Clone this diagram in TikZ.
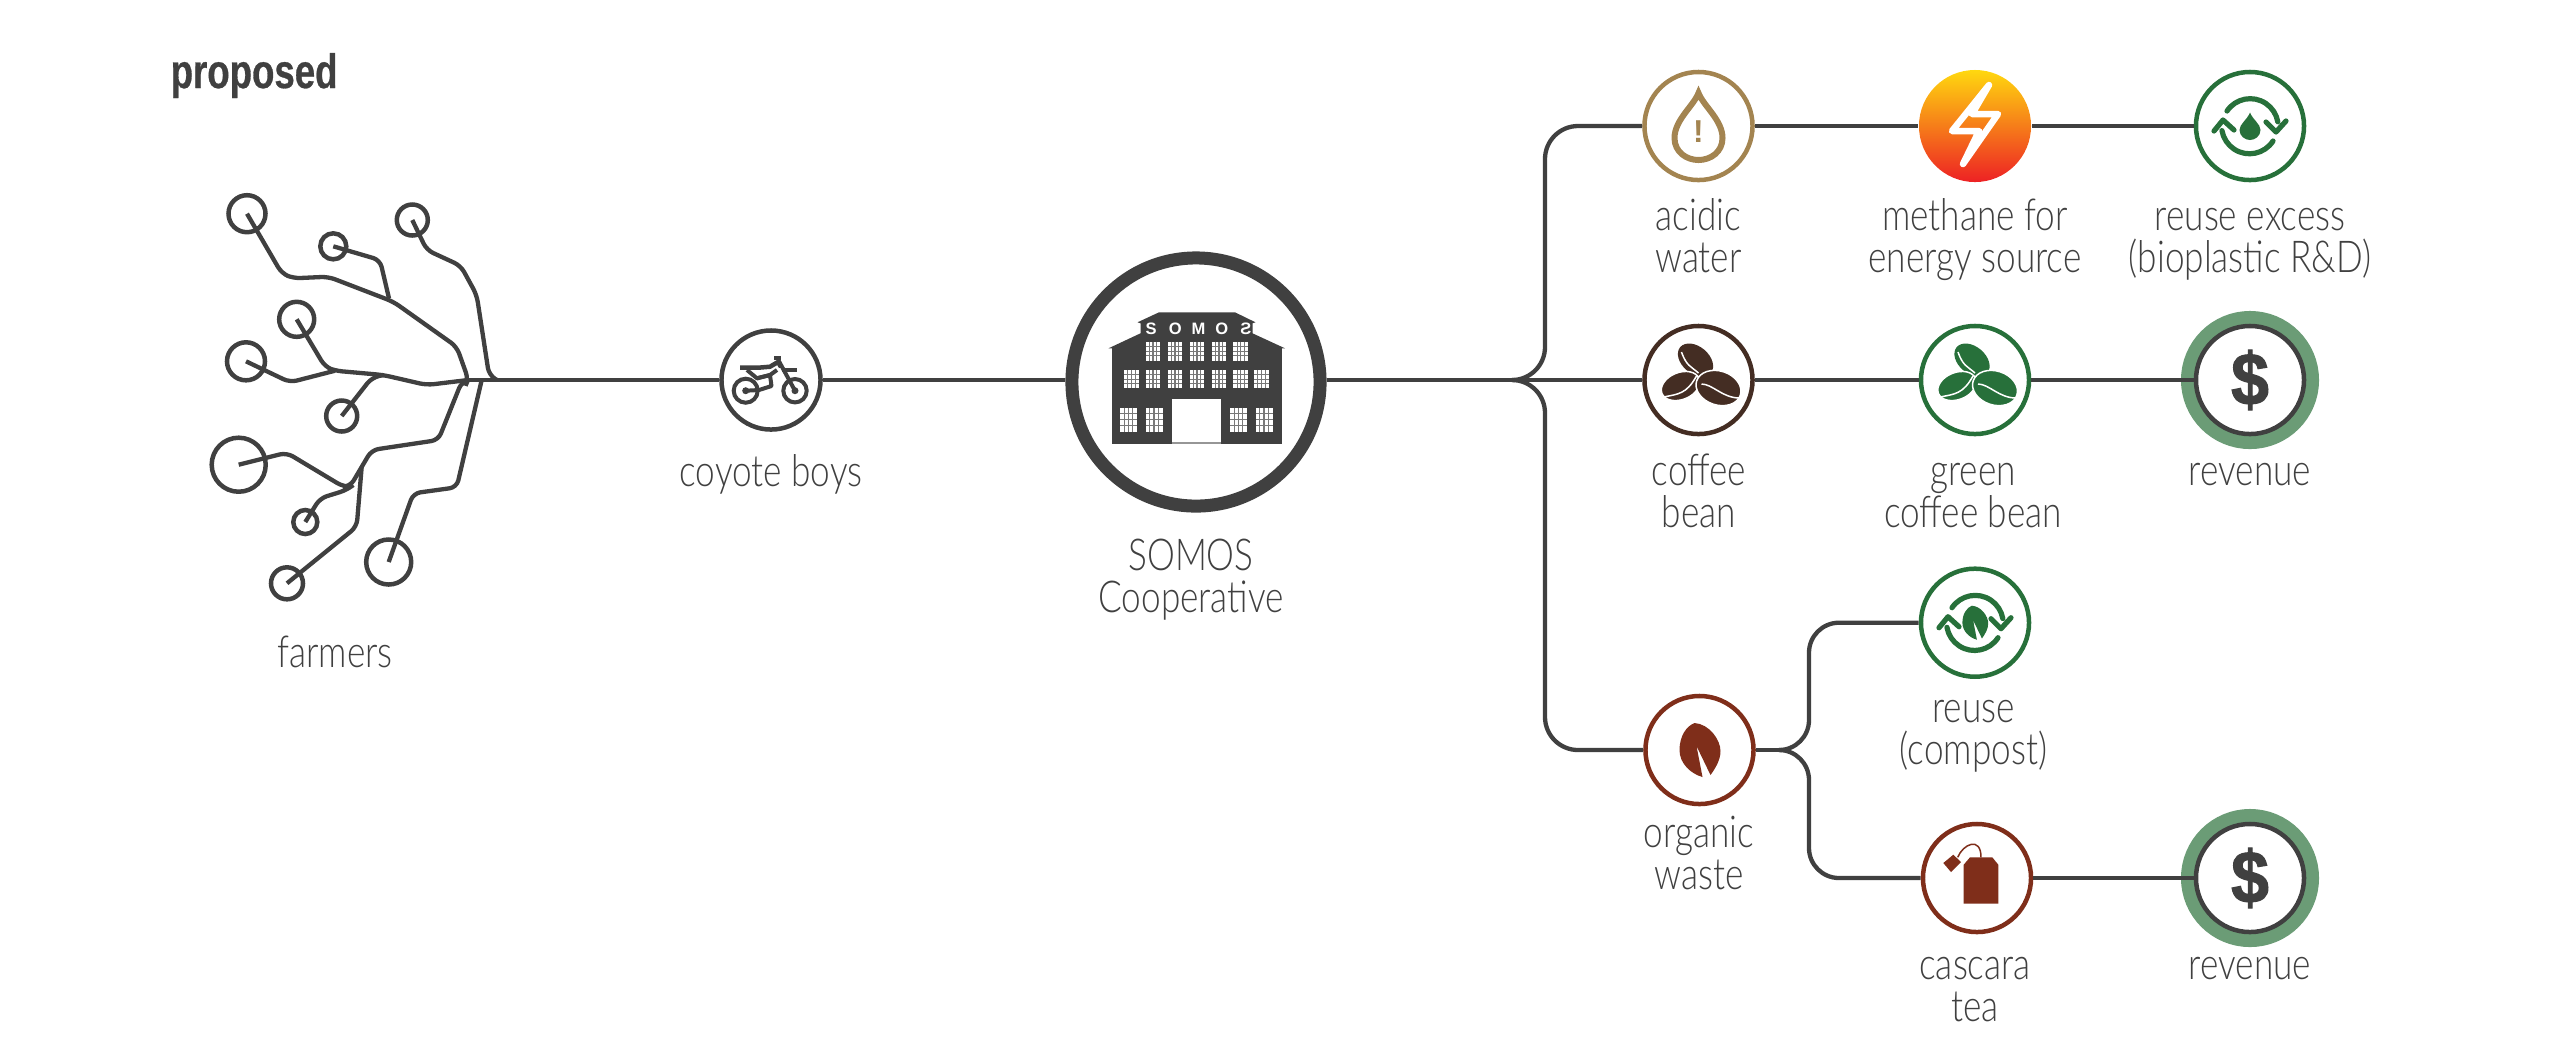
\documentclass[tikz,border=0pt]{standalone}
\usepackage{fontspec}
\setmainfont{Lato}[UprightFont=* Light, FakeStretch=0.8]
\newfontfamily\headfont{Liberation Sans Bold}[FakeStretch=0.76, FakeBold=0.6]
\newfontfamily\iconfont{Liberation Sans Bold}
\newfontfamily\cashfont{Liberation Sans Bold}[FakeStretch=0.92, FakeBold=1.5]
\usepackage{tikz}
\definecolor{ink}{HTML}{404040}
\definecolor{tan}{HTML}{A38450}
\definecolor{roast}{HTML}{442D23}
\definecolor{leaf}{HTML}{27703A}
\definecolor{rust}{HTML}{7F2E1A}
\definecolor{ringgreen}{HTML}{6B9C76}
\definecolor{fueltop}{HTML}{FFD80F}
\definecolor{fuelmid}{HTML}{F5821F}
\definecolor{fuelend}{HTML}{ED2124}
\tikzstyle{farmer}=[circle, draw=ink, line width=0.045cm, inner sep=0pt]
\tikzstyle{pointink}=[circle, draw=ink, fill=white, line width=0.045cm, minimum size=1.08cm, inner sep=0pt]
\tikzstyle{pointtan}=[pointink, draw=tan]
\tikzstyle{pointroast}=[pointink, draw=roast]
\tikzstyle{pointleaf}=[pointink, draw=leaf]
\tikzstyle{pointrust}=[pointink, draw=rust]
\tikzstyle{pointfuel}=[circle, minimum size=1.12cm, inner sep=0pt, top color=fueltop, middle color=fuelmid, bottom color=fuelend]
\tikzstyle{pointrevenue}=[pointink, preaction={draw=ringgreen, line width=0.3cm}]
\tikzstyle{wire}=[draw=ink, line width=0.043cm]
\tikzstyle{branch}=[wire, rounded corners=0.07cm]
\tikzstyle{caption}=[font=\fontsize{12.5}{11.8}\selectfont, text=ink, align=center, anchor=base, inner sep=0pt]
\newcommand{\windowpane}[4]{
	\begin{scope}[shift={(#1,#2)}, xscale=#3, yscale=#4]
		\fill[white] (-0.5,0) rectangle (0.5,1);
		\foreach \g in {0.25,0.5,0.75} {
			\draw[ink!70, line width=0.3pt] (-0.5,\g) -- (0.5,\g);
			\draw[ink!70, line width=0.3pt] (\g-0.5,0) -- (\g-0.5,1);
		}
	\end{scope}
}
\newcommand{\ringarrows}[1]{
	\draw[#1, line width=0.052cm, line cap=round, line join=round] (-23,-15) arc[start angle=-146, end angle=-10, radius=28] (16,-4) -- (26,6) -- (36,-5);
	\draw[#1, line width=0.052cm, line cap=round, line join=round] (23,15) arc[start angle=33, end angle=170, radius=28] (-36,5) -- (-27,-6) -- (-16,4);
}
\newcommand{\leafshape}[1]{
	\fill[#1] (-5,-27) .. controls (10,-26) and (21,-10) .. (21,1) .. controls (21,10) and (16,18) .. (11,25) -- (-3,-4) -- (3,27) .. controls (-8,24) and (-20,14) .. (-20,0) .. controls (-20,-14) and (-13,-24) .. (-5,-27) -- cycle;
}
\newcommand{\beanpile}[1]{
	\fill[#1] (-3,-20) ellipse [x radius=20, y radius=13.5, rotate=-40];
	\draw[white, line width=0.015cm] (-17,-28) .. controls (-12,-14) and (-8,-14) .. (0,-7);
	\filldraw[fill=#1, draw=white, line width=0.015cm] (-18,6) ellipse [x radius=20, y radius=13.5, rotate=22];
	\draw[white, line width=0.015cm] (-35,17) .. controls (-20,14) and (-12,14) .. (-2,-4);
	\filldraw[fill=#1, draw=white, line width=0.015cm] (20,8) ellipse [x radius=23, y radius=17, rotate=-18];
	\draw[white, line width=0.015cm] (3,4) .. controls (14,4) and (24,18) .. (41,18);
}
\begin{document}
\begin{tikzpicture}[x=0.01cm, y=-0.01cm]
	\useasboundingbox (0,0) rectangle (2550,1050);
	\begin{scope}
		\node (f1) at (247,213.7)[farmer, minimum size=0.37cm] {};
		\node (f2) at (333.3,246.3)[farmer, minimum size=0.26cm] {};
		\node (f3) at (412.3,220)[farmer, minimum size=0.31cm] {};
		\node (f4) at (296.7,319.3)[farmer, minimum size=0.35cm] {};
		\node (f5) at (246,361.3)[farmer, minimum size=0.38cm] {};
		\node (f6) at (341.7,416)[farmer, minimum size=0.31cm] {};
		\node (f7) at (238.7,464.7)[farmer, minimum size=0.54cm] {};
		\node (f8) at (305.3,522)[farmer, minimum size=0.24cm] {};
		\node (f9) at (287,583.3)[farmer, minimum size=0.32cm] {};
		\node (f10) at (388.7,562)[farmer, minimum size=0.45cm] {};
		\coordinate (hub) at (468,380);
		\node (coyote) at (771,380)[pointink, minimum size=0.99cm] {};
		\node (somos) at (1196,382)[circle, draw=ink, fill=white, line width=0.13cm, minimum size=2.48cm, inner sep=0pt] {};
		\node (acid) at (1698.5,126)[pointtan] {};
		\node (methane) at (1975,126)[pointfuel] {};
		\node (excess) at (2250,126)[pointleaf] {};
		\node (bean) at (1698.5,380)[pointroast] {};
		\node (greenbean) at (1975,380)[pointleaf] {};
		\node (revenue) at (2250,380)[pointrevenue] {};
		\node (waste) at (1699.5,750)[pointrust] {};
		\node (compost) at (1975,622.7)[pointleaf] {};
		\node (tea) at (1977,878)[pointrust] {};
		\node (sales) at (2250,878)[pointrevenue] {};
		\coordinate (fork) at (1512,380);
		\coordinate (split) at (1779,750);
	\end{scope}
	\begin{scope}
		\draw[branch] (f1.center) -- (281.7,273.3) -- (293.3,278.3) -- (328.3,276.7) -- (393.3,301.7) -- (456.7,346.7) -- (468.3,379.3) -- (hub);
		\draw[branch] (f2.center) -- (380,260) -- (389,298.3);
		\draw[branch] (f3.center) -- (426.7,250) -- (460.7,265.7) -- (476.7,295) -- (489,375) -- (497,380);
		\draw[branch] (f4.center) -- (325,366.7) -- (335,370.7) -- (383.3,375) -- (426.7,385) -- (hub);
		\draw[branch] (f5.center) -- (290,382.3) -- (335,370.7);
		\draw[branch] (f6.center) -- (371.7,377.7) -- (383.3,375);
		\draw[branch] (f7.center) -- (286.7,452.7) -- (343.3,486.7) -- (350,486.7) -- (371.7,450) -- (438.3,440) -- (461.7,381.7) -- (hub);
		\draw[branch] (f8.center) -- (320,498.3) -- (346.7,490) -- (353.3,485);
		\draw[branch] (f9.center) -- (356.7,526.7) -- (361.7,466.7);
		\draw[branch] (f10.center) -- (413.3,493.3) -- (456.7,487.3) -- (481.7,380);
		\path [wire] (hub) edge (coyote);
		\path [wire] (coyote) edge (coyote -| somos.west);
		\path [wire] (somos.east |- fork) edge (fork);
		\path [wire] (fork) edge (bean);
		\path [wire] (bean) edge (greenbean);
		\path [wire] (greenbean) edge (revenue);
		\path [wire] (acid) edge (methane);
		\path [wire] (methane) edge (excess);
		\path [wire] (tea) edge (sales);
		\path [wire] (waste) edge (split);
		\draw[wire, rounded corners=0.33cm] (fork) -- (1545,380) -- (1545,126) -- (acid);
		\draw[wire, rounded corners=0.33cm] (fork) -- (1545,380) -- (1545,750) -- (waste);
		\draw[wire, rounded corners=0.3cm] (split) -- (1809,750) -- (1809,622.7) -- (compost);
		\draw[wire, rounded corners=0.3cm] (split) -- (1809,750) -- (1809,878) -- (tea);
	\end{scope}
	\begin{scope}[shift={(771,380)}]
		\draw[ink, line width=0.04cm] (-25.3,10.7) circle (12);
		\fill[ink] (-25.3,10.7) circle (3.5);
		\draw[ink, line width=0.04cm] (24,10.7) circle (11.7);
		\fill[ink] (24,10.7) circle (3.5);
		\draw[ink, line width=0.045cm, line join=round] (-31,-12.3) -- (-13,-12.3) -- (-1,-13.3) -- (7,-18) -- (10,-13);
		\draw[ink, line width=0.04cm] (10.7,-10) -- (25.7,-10);
		\draw[ink, line width=0.04cm] (3.3,-21.7) -- (10,-21.7);
		\draw[ink, line width=0.04cm] (7.3,-20) -- (24,10.7);
		\draw[ink, line width=0.04cm, line join=round] (-24,-10) -- (-14,-1.7) -- (-1,-5) -- (6,-10);
		\draw[ink, line width=0.04cm, line join=round] (-14,-1.7) -- (-1,-5) -- (0.5,6) -- (-12,10) -- (-25.3,10.7);
	\end{scope}
	\begin{scope}
		\fill[ink] (1111.5,348) rectangle (1282,443.5);
		\fill[ink] (1108.5,348.3) -- (1140.5,333.3) -- (1140.5,323.3) -- (1137.5,322.3) -- (1159,312.3) -- (1235,312.3) -- (1255.5,322.3) -- (1252.5,323.3) -- (1252.5,333.3) -- (1285,348.3) -- cycle;
		\node (sign) at (1198.5,328.3)[text=white, font=\iconfont\fontsize{4.7}{5}\selectfont, inner sep=0pt] {S\hspace{0.12cm}O\hspace{0.1cm}M\hspace{0.1cm}O\hspace{0.12cm}\reflectbox{S}};
		\foreach \wx in {1153,1175,1197,1219,1240.7} {\windowpane{\wx}{341.7}{14.7}{19}}
		\foreach \wx in {1131.4,1153,1175,1197,1219,1240.7,1261.5} {\windowpane{\wx}{370}{14.5}{18.3}}
		\foreach \wx in {1128.4,1154,1238.5,1264} {\windowpane{\wx}{407.7}{17}{24}}
		\fill[white] (1172,399.3) rectangle (1221,442);
		\fill[ink!55] (1172,442) rectangle (1221,443.5);
	\end{scope}
	\begin{scope}[shift={(1698.5,126)}]
		\draw[tan, line width=0.06cm, line join=miter] (0,-33) .. controls (-5,-20) and (-24,-6) .. (-24,12) .. controls (-24,26) and (-12,34) .. (0,34) .. controls (12,34) and (24,26) .. (24,12) .. controls (24,-6) and (5,-20) .. (0,-33) -- cycle;
		\node (mark) at (0,5.5)[text=tan, font=\iconfont\fontsize{9}{10}\selectfont, inner sep=0pt] {!};
	\end{scope}
	\begin{scope}[shift={(1975,126)}]
		\draw[white, line width=0.065cm, line join=round] (14,-41) -- (-23,5) -- (4,5) -- (-12,38) -- (23,-12) -- (-3,-12) -- cycle;
	\end{scope}
	\begin{scope}[shift={(2250,126)}]
		\ringarrows{leaf}
		\fill[leaf] (0,-13.5) .. controls (-3,-6) and (-10.5,-2) .. (-10.5,4) .. controls (-10.5,10) and (-5,14) .. (0,14) .. controls (5,14) and (10.5,10) .. (10.5,4) .. controls (10.5,-2) and (3,-6) .. (0,-13.5) -- cycle;
	\end{scope}
	\begin{scope}[shift={(1698.5,380)}]
		\beanpile{roast}
	\end{scope}
	\begin{scope}[shift={(1975,380)}]
		\beanpile{leaf}
	\end{scope}
	\begin{scope}[shift={(1699.5,750)}]
		\leafshape{rust}
	\end{scope}
	\begin{scope}[shift={(1975,622.7)}]
		\ringarrows{leaf}
		\begin{scope}[scale=0.63]
			\leafshape{leaf}
		\end{scope}
	\end{scope}
	\begin{scope}[shift={(1977,878)}]
		\fill[rust] (-13.3,-13.3) -- (-7,-20.7) -- (15.3,-20.7) -- (21.3,-13.3) -- (21.3,25.7) -- (-13.3,25.7) -- cycle;
		\fill[rust] (-33.7,-15) -- (-23.7,-23.3) -- (-16,-16) -- (-26,-6) -- cycle;
		\draw[rust, line width=0.015cm] (-19.3,-20.7) .. controls (-14,-34) and (4,-42) .. (4,-20.7);
	\end{scope}
	\node (cash) at (2250,380)[text=ink, font=\cashfont\fontsize{21}{22}\selectfont, inner sep=0pt] {\$};
	\node (cash2) at (2250,878)[text=ink, font=\cashfont\fontsize{21}{22}\selectfont, inner sep=0pt] {\$};
	\begin{scope}
		\node (title) at (170,88)[anchor=base west, text=ink, inner sep=0pt, font=\headfont\fontsize{13.7}{15}\selectfont] {proposed};
		\node (farmerstext) at (335,667)[caption] {farmers};
		\node (coyotetext) at (771,486)[caption] {coyote boys};
		\node (somostext) at (1191,612)[caption] {SOMOS\\Cooperative};
		\node (acidtext) at (1698.5,272)[caption] {acidic\\water};
		\node (methanetext) at (1975,272)[caption] {methane for\\energy source};
		\node (excesstext) at (2250,272)[caption] {reuse excess\\(bioplastic R\&D)};
		\node (beantext) at (1699,527)[caption] {coffee\\bean};
		\node (greentext) at (1973,527)[caption] {green\\coffee bean};
		\node (revenuetext) at (2250,485)[caption] {revenue};
		\node (compostext) at (1973.5,764)[caption] {reuse\\(compost)};
		\node (wastetext) at (1699,889)[caption] {organic\\waste};
		\node (teatext) at (1975,1021)[caption] {cascara\\tea};
		\node (salestext) at (2250,979)[caption] {revenue};
	\end{scope}
\end{tikzpicture}
\end{document}
